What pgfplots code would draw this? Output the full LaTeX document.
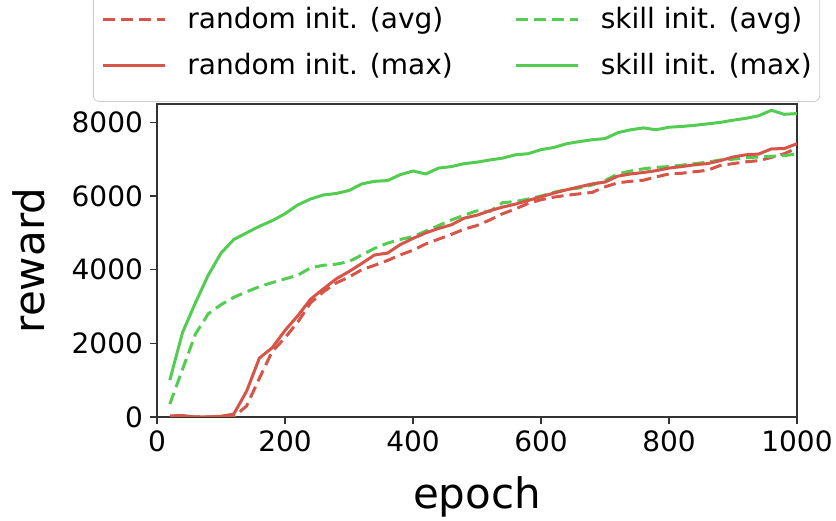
\documentclass[border=0pt]{standalone}
\usepackage{fontspec}
\setmainfont{DejaVu Sans}
\usepackage{pgfplots}
\usepackage{pgfplotstable}
\pgfplotsset{compat=1.18}
\usetikzlibrary{calc}

\definecolor{rnd}{RGB}{214,84,72}
\definecolor{skl}{RGB}{82,205,82}

% epoch, random avg, skill avg, random max, skill max
\pgfplotstableread{
epoch ravg savg rmax smax
20   0    350  30   1000
40   0    1300 40   2300
60   0    2250 0    3100
80   0    2800 0    3850
100  0    3050 20   4450
120  0    3250 80   4820
140  300  3400 700  5000
160  1050 3540 1600 5180
180  1780 3650 1880 5330
200  2150 3750 2350 5520
220  2580 3850 2750 5760
240  3100 4050 3200 5920
260  3400 4120 3480 6030
280  3640 4150 3750 6070
300  3800 4220 3950 6150
320  4000 4400 4170 6330
340  4120 4580 4400 6400
360  4250 4720 4450 6420
380  4400 4820 4680 6580
400  4530 4900 4850 6680
420  4700 5050 5000 6600
440  4830 5200 5120 6760
460  4960 5350 5220 6800
480  5100 5480 5400 6880
500  5200 5600 5480 6920
520  5350 5580 5600 6980
540  5520 5820 5700 7030
560  5650 5850 5780 7120
580  5800 5920 5880 7150
600  5900 6000 5980 7260
620  5970 6100 6080 7320
640  6020 6180 6170 7420
660  6060 6220 6250 7480
680  6100 6300 6330 7530
700  6250 6420 6380 7560
720  6360 6600 6540 7720
740  6400 6680 6600 7800
760  6430 6740 6640 7850
780  6520 6780 6690 7800
800  6600 6800 6760 7870
820  6620 6840 6800 7890
840  6660 6880 6850 7920
860  6700 6920 6880 7960
880  6830 6980 6960 8000
900  6880 7000 7060 8060
920  6930 7040 7120 8110
940  6960 7060 7140 8180
960  7050 7080 7280 8330
980  7150 7100 7290 8220
1000 7300 7140 7420 8240
}\data

\begin{document}
\begin{tikzpicture}
\begin{axis}[
    width=320pt, height=156.5pt, scale only axis,
    xmin=0, xmax=1000, ymin=0, ymax=8500,
    xtick={0,200,...,1000},
    ytick={0,2000,4000,6000,8000},
    tick align=outside,
    major tick length=3.5pt,
    xtick pos=bottom, ytick pos=left,
    tick style={black!80, line width=0.6pt},
    axis line style={black!80, line width=0.6pt},
    ticklabel style={font=\fontsize{14}{16}\selectfont},
    /pgf/number format/assume math mode=true,
    /pgf/number format/set thousands separator={},
    scaled ticks=false,
    xlabel={epoch}, ylabel={reward},
    label style={font=\fontsize{21}{24}\selectfont},
    xlabel style={at={(axis description cs:0.5,-0.256)}, anchor=center},
    ylabel style={at={(axis description cs:-0.2,0.5)}, anchor=center},
    legend columns=2,
    legend cell align=left,
    legend image code/.code={\draw[#1] (0pt,0pt) -- (31pt,0pt);},
    legend style={
        at={(axis description cs:0,1)}, anchor=south west,
        xshift=-32pt, yshift=1pt,
        draw=black!20, rounded corners=3pt,
        font=\fontsize{14}{16}\selectfont,
        inner xsep=4pt, inner ysep=9pt,
        nodes={inner xsep=0pt, inner ysep=3pt},
        row sep=5pt,
        /tikz/every odd column/.append style={column sep=10.5pt},
        /tikz/every even column/.append style={column sep=31pt},
    },
]
\addplot[rnd, line width=1.5pt, dash pattern=on 6pt off 3pt] table[x=epoch, y=ravg] {\data};
\addlegendentry{random init. (avg)}
\addplot[skl, line width=1.5pt, dash pattern=on 6pt off 3pt] table[x=epoch, y=savg] {\data};
\addlegendentry{skill init. (avg)}
\addplot[rnd, line width=1.5pt] table[x=epoch, y=rmax] {\data};
\addlegendentry{random init. (max)}
\addplot[skl, line width=1.5pt] table[x=epoch, y=smax] {\data};
\addlegendentry{skill init. (max)}
\coordinate (bl) at (rel axis cs:0,0);
\coordinate (tr) at (rel axis cs:1,1);
\end{axis}
\pgfresetboundingbox
\path ($(bl)+(-78.5pt,-52pt)$) rectangle ($(tr)+(19.5pt,52pt)$);
\end{tikzpicture}
\end{document}
